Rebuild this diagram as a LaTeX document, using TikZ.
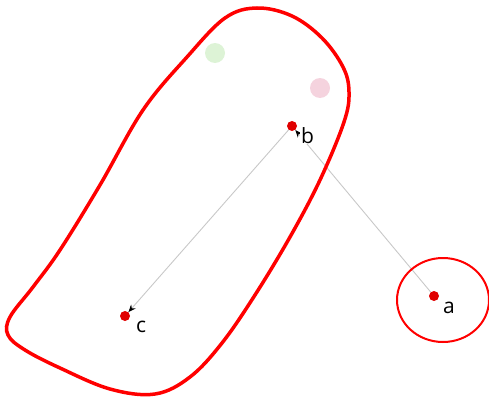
\documentclass[tikz,border=0pt]{standalone}
\usepackage{fontspec}
\setmainfont{Open Sans}
\usetikzlibrary{arrows.meta,positioning}
\definecolor{Rc}{HTML}{FF0000}
\definecolor{Dc}{HTML}{E00000}
\definecolor{Ec}{HTML}{C8C8C8}
\definecolor{Gc}{HTML}{DDF3D6}
\definecolor{Pc}{HTML}{F5D3DE}

\begin{document}
\begin{tikzpicture}[x=1pt, y=-1pt, font=\fontsize{21}{25}\selectfont,
    dot/.style={circle, fill=Dc, inner sep=0pt, minimum size=10pt},
    ghost/.style={circle, inner sep=0pt, minimum size=20pt},
    lbl/.style={fill=white, inner sep=1pt, anchor=base west},
    link/.style={draw=Ec, line width=0.9pt,
      -{Stealth[length=7.5pt, width=6pt, color=black]}}]
  \useasboundingbox (0,0) rectangle (489,396);
  % faded background
  \node[ghost, fill=Gc] (g1) at (215,53) {};
  \node[ghost, fill=Pc] (g2) at (320,88) {};
  % points
  \node[dot] (b) at (292,126) {};
  \node[dot] (c) at (125,316) {};
  \node[dot] (a) at (434,296) {};
  \draw[link] (a) -- (b);
  \draw[link] (b) -- (c);
  \node[lbl] (bl) at ([xshift=8pt, yshift=-17pt]b.center) {b};
  \node[lbl] (cl) at ([xshift=10pt, yshift=-16pt]c.center) {c};
  \node[lbl] (al) at ([xshift=8pt, yshift=-17pt]a.center) {a};
  % groups
  \draw[Rc, line width=3.5pt] plot[smooth cycle, tension=0.6] coordinates {
    (257,8) (292,16) (322,38) (343,67) (349,92) (344,122)
    (320,180) (290,237) (255,295) (222,343) (190,377) (155,394)
    (110,389) (60,368) (25,350) (8,335) (10,317) (33,287)
    (60,250) (100,185) (143,110) (187,57) (225,18)};
  \draw[Rc, line width=2pt] (443,300) ellipse [x radius=46, y radius=42];
\end{tikzpicture}
\end{document}
